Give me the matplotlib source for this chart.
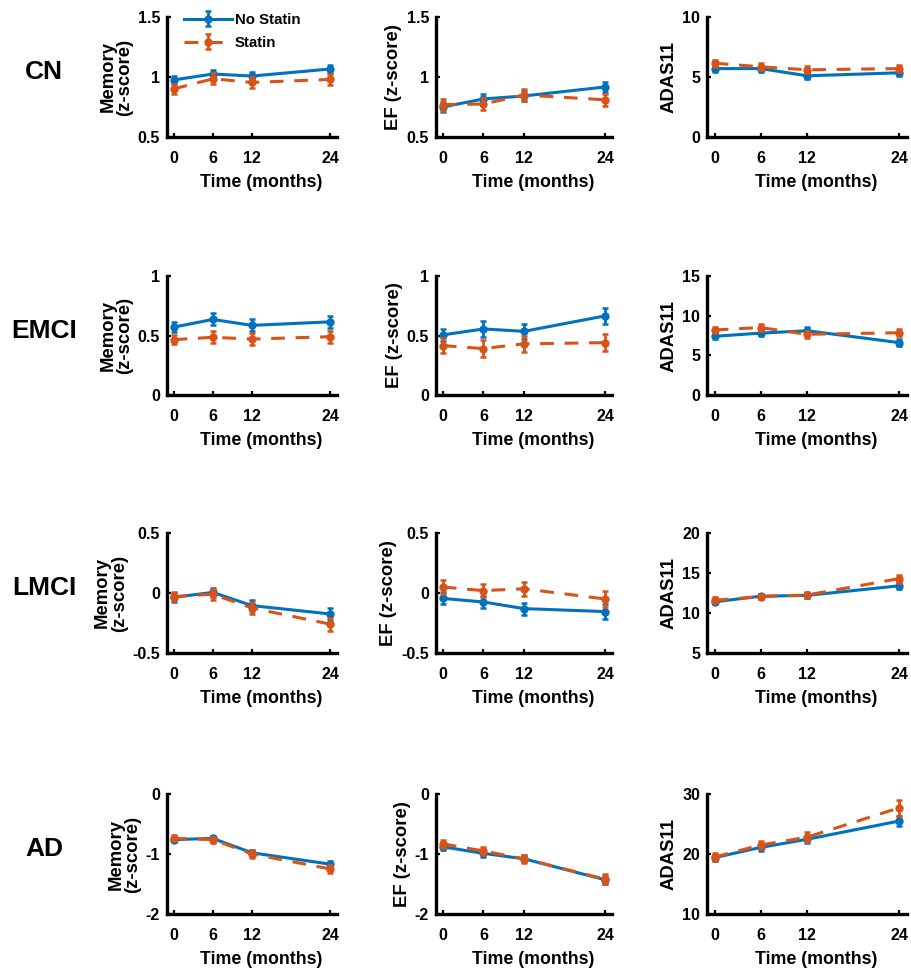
"""
Cognitive trajectories by statin use across diagnostic groups (CN, EMCI, LMCI, AD).
"""

import numpy as np
import matplotlib
matplotlib.use('Agg')
import matplotlib.pyplot as plt

plt.rcParams['font.family'] = ['Liberation Sans', 'DejaVu Sans']
plt.rcParams['font.weight'] = 'bold'

# ---- data ----
months = [0, 6, 12, 24]
groups = ['CN', 'EMCI', 'LMCI', 'AD']
measures = ['Memory\n(z-score)', 'EF (z-score)', 'ADAS11']

# no statin means, [group][measure][time]
no_statin = [
    [[0.975, 1.025, 1.008, 1.067], [0.75, 0.817, 0.842, 0.917], [5.7, 5.7, 5.1, 5.35]],
    [[0.57, 0.635, 0.585, 0.615], [0.505, 0.555, 0.535, 0.665], [7.4, 7.8, 8.1, 6.6]],
    [[-0.036, 0.005, -0.105, -0.175], [-0.045, -0.075, -0.13, -0.155], [11.4, 12.1, 12.2, 13.4]],
    [[-0.76, -0.74, -0.98, -1.17], [-0.88, -0.99, -1.08, -1.43], [19.4, 21.1, 22.45, 25.5]],
]
no_statin_err = [
    [[0.035, 0.035, 0.035, 0.03], [0.04, 0.045, 0.045, 0.04], [0.25, 0.25, 0.25, 0.25]],
    [[0.04, 0.05, 0.05, 0.05], [0.05, 0.065, 0.065, 0.065], [0.4, 0.4, 0.45, 0.4]],
    [[0.035, 0.04, 0.045, 0.05], [0.05, 0.05, 0.05, 0.06], [0.3, 0.3, 0.3, 0.35]],
    [[0.04, 0.04, 0.05, 0.06], [0.06, 0.06, 0.06, 0.07], [0.5, 0.55, 0.6, 0.8]],
]
statin = [
    [[0.9, 0.985, 0.955, 0.98], [0.77, 0.775, 0.85, 0.81], [6.15, 5.85, 5.6, 5.7]],
    [[0.465, 0.485, 0.47, 0.49], [0.415, 0.39, 0.43, 0.44], [8.2, 8.5, 7.65, 7.85]],
    [[-0.03, -0.01, -0.125, -0.26], [0.05, 0.02, 0.035, -0.05], [11.6, 12.05, 12.25, 14.3]],
    [[-0.74, -0.76, -1.0, -1.25], [-0.83, -0.95, -1.08, -1.42], [19.5, 21.5, 22.8, 27.7]],
]
statin_err = [
    [[0.04, 0.045, 0.045, 0.045], [0.05, 0.05, 0.05, 0.05], [0.3, 0.3, 0.3, 0.3]],
    [[0.04, 0.05, 0.05, 0.05], [0.06, 0.07, 0.07, 0.07], [0.4, 0.45, 0.45, 0.45]],
    [[0.04, 0.045, 0.05, 0.055], [0.055, 0.055, 0.06, 0.065], [0.35, 0.35, 0.4, 0.5]],
    [[0.05, 0.05, 0.06, 0.07], [0.07, 0.07, 0.07, 0.08], [0.6, 0.7, 0.8, 1.3]],
]

# y limits and ticks per [group][measure]
ylims = [
    [(0.5, 1.5), (0.5, 1.5), (0, 10)],
    [(0, 1), (0, 1), (0, 15)],
    [(-0.5, 0.5), (-0.5, 0.5), (5, 20)],
    [(-2, 0), (-2, 0), (10, 30)],
]
yticks = [
    [[0.5, 1, 1.5], [0.5, 1, 1.5], [0, 5, 10]],
    [[0, 0.5, 1], [0, 0.5, 1], [0, 5, 10, 15]],
    [[-0.5, 0, 0.5], [-0.5, 0, 0.5], [5, 10, 15, 20]],
    [[-2, -1, 0], [-2, -1, 0], [10, 20, 30]],
]

BLUE = '#0072BD'
ORANGE = '#D95319'

W, H = 911, 969
fig = plt.figure(figsize=(W / 100, H / 100), dpi=100, facecolor='white')

# pixel layout of the panels
col_left = [167, 436, 707]
col_right = [337, 612, 907]
row_top = [17, 276, 533, 794]
row_bot = [137, 395, 653, 914]

for r in range(4):
    for c in range(3):
        x0 = col_left[c] / W
        wpx = col_right[c] - col_left[c]
        y0 = 1 - row_bot[r] / H
        h = (row_bot[r] - row_top[r]) / H
        ax = fig.add_axes([x0, y0, wpx / W, h])

        ax.errorbar(months, no_statin[r][c], yerr=no_statin_err[r][c],
                    color=BLUE, lw=2.2, ls='-', marker='o', ms=5,
                    capsize=2.5, elinewidth=2, capthick=1.8,
                    label='No Statin', zorder=3)
        ax.errorbar(months, statin[r][c], yerr=statin_err[r][c],
                    color=ORANGE, lw=2.2, ls=(0, (4.5, 3.5)), marker='o', ms=5,
                    capsize=2.5, elinewidth=2, capthick=1.8,
                    label='Statin', zorder=4)

        ax.set_xlim(-1, 25)
        ax.set_ylim(*ylims[r][c])
        ax.set_xticks(months)
        ax.set_yticks(yticks[r][c])
        ax.set_yticklabels([f'{v:g}' for v in yticks[r][c]])

        for side in ['top', 'right']:
            ax.spines[side].set_visible(False)
        for side in ['left', 'bottom']:
            ax.spines[side].set_linewidth(2.4)
        ax.tick_params(direction='in', length=3, width=1.6, labelsize=11.5)
        ax.tick_params(axis='x', pad=10)
        ax.tick_params(axis='y', pad=5)
        for lbl in ax.get_xticklabels() + ax.get_yticklabels():
            lbl.set_fontweight('bold')

        ax.set_xlabel('Time (months)', fontsize=12.8, fontweight='bold',
                      labelpad=6)
        ax.xaxis.label.set_x(0.5 + 9 / wpx)
        ax.set_ylabel(measures[c], fontsize=13.3, fontweight='bold',
                      labelpad=3, linespacing=1.0)

        if r == 0 and c == 0:
            ax.legend(loc='upper left', bbox_to_anchor=(178 / W, 1 - 7 / H),
                      bbox_transform=fig.transFigure, frameon=False,
                      handlelength=3.2, handletextpad=0.2,
                      borderaxespad=0, labelspacing=0.6,
                      prop={'weight': 'bold', 'size': 10.8})

    fig.text(44 / W, 1 - (row_top[r] + row_bot[r]) / 2 / H + 0.005,
             groups[r], fontsize=19, fontweight='bold',
             ha='center', va='center')

fig.savefig('out.png', dpi=100, facecolor='white')
